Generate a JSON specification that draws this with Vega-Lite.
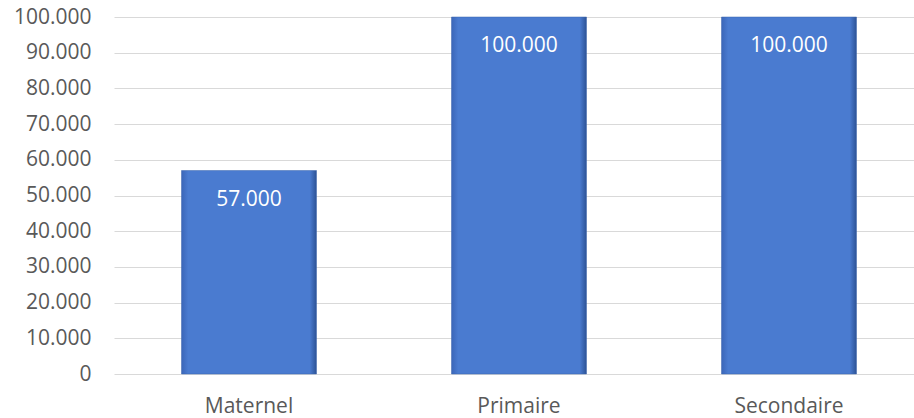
{
  "$schema": "https://vega.github.io/schema/vega-lite/v6.json",
  "width": 800,
  "height": 357,
  "autosize": {"type": "none"},
  "padding": {"left": 114, "top": 17, "right": 0, "bottom": 44},
  "background": "white",
  "config": {
    "view": {"stroke": null},
    "font": "Open Sans"
  },
  "data": {
    "values": [
      {"niveau": "Maternel", "valeur": 57},
      {"niveau": "Primaire", "valeur": 100},
      {"niveau": "Secondaire", "valeur": 100}
    ]
  },
  "encoding": {
    "x": {
      "field": "niveau",
      "type": "nominal",
      "sort": null,
      "scale": {"range": [0, 810], "paddingInner": 0.5, "paddingOuter": 0.25},
      "axis": {
        "title": null,
        "labelAngle": 0,
        "domain": false,
        "ticks": false,
        "labelFont": "Open Sans",
        "labelFontSize": 21,
        "labelColor": "#595959",
        "labelPadding": 21
      }
    },
    "y": {
      "field": "valeur",
      "type": "quantitative",
      "scale": {"domain": [0, 100]},
      "axis": {
        "title": null,
        "values": [0, 10, 20, 30, 40, 50, 60, 70, 80, 90, 100],
        "labelExpr": "datum.value == 0 ? '0' : format(datum.value, '.3f')",
        "domain": false,
        "ticks": false,
        "gridColor": "#d9d9d9",
        "gridWidth": 1.2,
        "labelFont": "Open Sans",
        "labelFontSize": 21,
        "labelColor": "#595959",
        "labelPadding": 23
      }
    }
  },
  "layer": [
    {
      "mark": {
        "type": "bar",
        "color": {
          "gradient": "linear",
          "x1": 0, "y1": 0, "x2": 1, "y2": 0,
          "stops": [
            {"offset": 0, "color": "#3b66b8"},
            {"offset": 0.05, "color": "#4a7bd0"},
            {"offset": 0.95, "color": "#4a7bd0"},
            {"offset": 1, "color": "#2c5295"}
          ]
        },
        "stroke": "#3a64ad",
        "strokeWidth": 0.5
      }
    },
    {
      "mark": {
        "type": "text",
        "color": "white",
        "font": "Open Sans",
        "fontSize": 21,
        "baseline": "alphabetic",
        "dy": 35
      },
      "encoding": {
        "text": {"field": "valeur", "type": "quantitative", "format": ".3f"}
      }
    }
  ]
}
